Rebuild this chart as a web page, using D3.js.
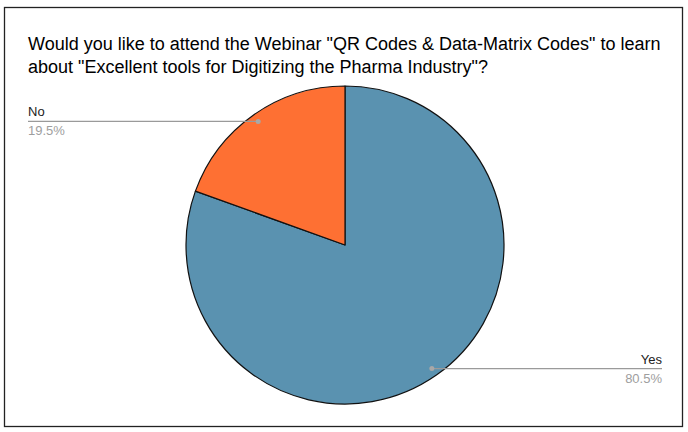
<!DOCTYPE html>
<html>
<head>
<meta charset="utf-8">
<script src="https://cdn.jsdelivr.net/npm/d3@7"></script>
<style>
  body { margin: 0; background: #fff; }
  text { font-family: "Liberation Sans", Arial, sans-serif; }
</style>
</head>
<body>
<svg id="chart"></svg>
<script>
/* data */
var answers = ["Yes", "No"];
var shares = [80.5, 19.5];
var shareLabels = ["80.5%", "19.5%"];
var colors = ["#5a92b0", "#fe7033"];
var titleLines = [
  "Would you like to attend the Webinar \"QR Codes & Data-Matrix Codes\" to learn",
  "about \"Excellent tools for Digitizing the Pharma Industry\"?"
];

var width = 688, height = 432;
var cx = 345, cy = 245, radius = 159;

var svg = d3.select("#chart")
  .attr("width", width)
  .attr("height", height);

/* kader */
svg.append("rect")
  .attr("x", 4.5).attr("y", 7.5)
  .attr("width", 678).attr("height", 419)
  .attr("fill", "#fff")
  .attr("stroke", "#222")
  .attr("stroke-width", 1.3);

/* titel */
svg.append("g").selectAll("text")
  .data(titleLines)
  .enter()
  .append("text")
  .attr("x", 28)
  .attr("y", function(d, i) { return 50 + i * 23; })
  .attr("font-size", 18)
  .attr("fill", "#000")
  .text(function(d) { return d; });

var data = answers.map(function(a, i) {
  return { answer: a, value: shares[i], label: shareLabels[i], color: colors[i] };
});

var pie = d3.pie()
  .sort(null)
  .value(function(d) { return d.value; });

var arc = d3.arc()
  .innerRadius(0)
  .outerRadius(radius);

var dotArc = d3.arc()
  .innerRadius(radius * 0.95)
  .outerRadius(radius * 0.95);

var group = svg.append("g")
  .attr("transform", "translate(" + cx + "," + cy + ")");

var arcs = pie(data);

group.selectAll(".slice")
  .data(arcs)
  .enter()
  .append("path")
  .attr("class", "slice")
  .attr("d", arc)
  .attr("fill", function(d) { return d.data.color; })
  .attr("stroke", "#111")
  .attr("stroke-width", 1.2)
  .attr("stroke-linejoin", "round");

/* labels met leader lines */
var labelGroup = svg.append("g");

arcs.forEach(function(d) {
  var p = dotArc.centroid(d);
  var px = cx + p[0], py = cy + p[1];
  var right = px > cx;
  var endX = right ? 662 : 28;

  labelGroup.append("line")
    .attr("x1", px).attr("y1", py)
    .attr("x2", endX).attr("y2", py)
    .attr("stroke", "#9a9a9a")
    .attr("stroke-width", 1.3);

  labelGroup.append("circle")
    .attr("cx", px).attr("cy", py)
    .attr("r", 2.5)
    .attr("fill", "#a8a8a8");

  labelGroup.append("text")
    .attr("x", endX)
    .attr("y", py - 5)
    .attr("text-anchor", right ? "end" : "start")
    .attr("font-size", 13)
    .attr("fill", "#222")
    .text(d.data.answer);

  labelGroup.append("text")
    .attr("x", endX)
    .attr("y", py + 14)
    .attr("text-anchor", right ? "end" : "start")
    .attr("font-size", 13)
    .attr("fill", "#9e9e9e")
    .text(d.data.label);
});
</script>
</body>
</html>
